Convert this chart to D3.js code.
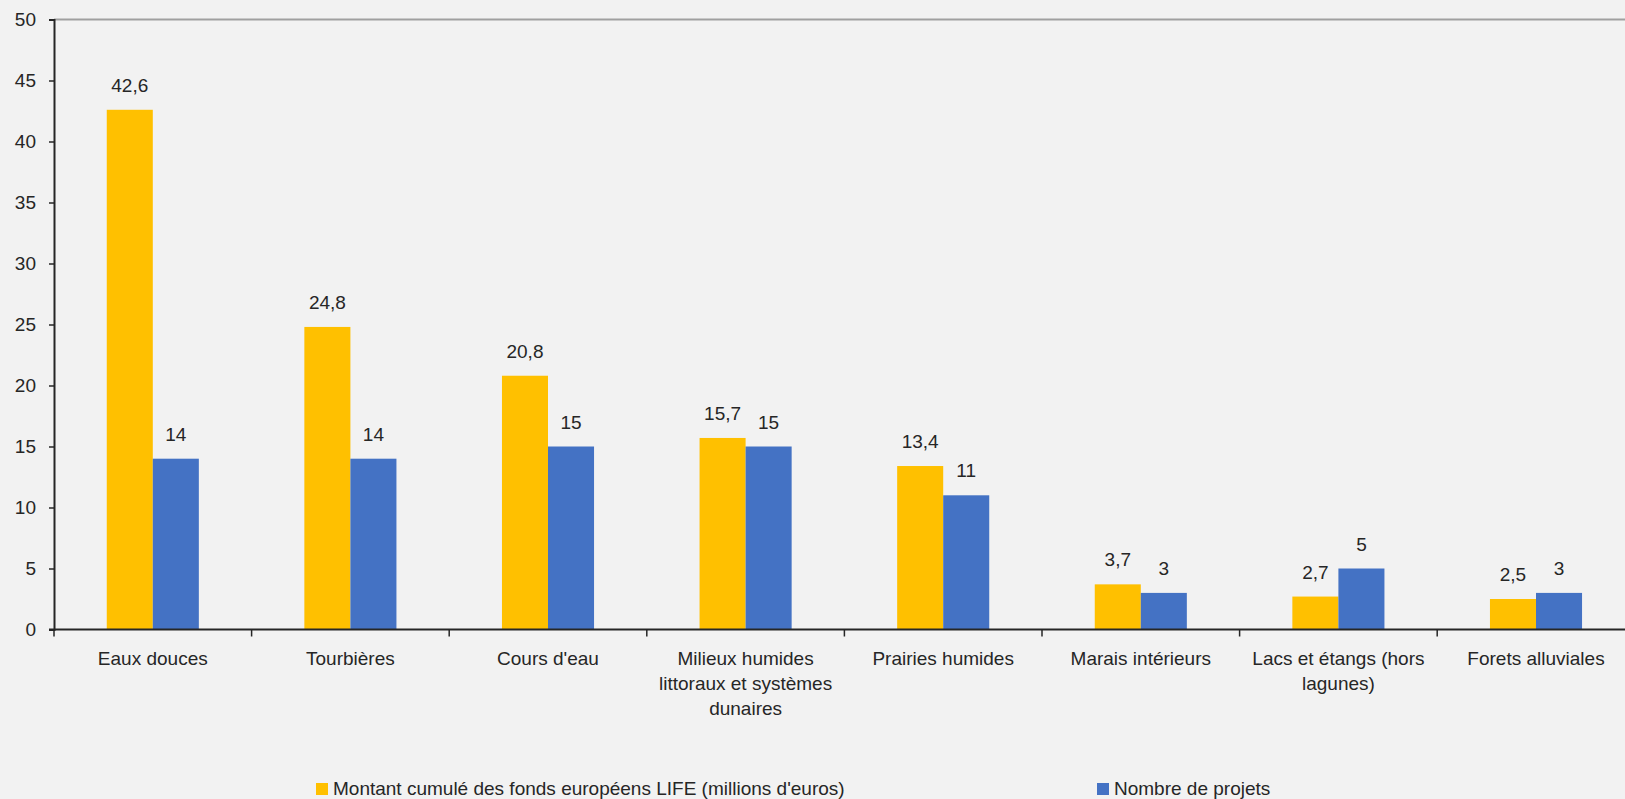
<!DOCTYPE html>
<html>
<head>
<meta charset="utf-8">
<script src="https://cdn.jsdelivr.net/npm/d3@7"></script>
<style>
  html, body { margin: 0; padding: 0; background: #f2f2f2; }
  svg { display: block; font-family: 'Liberation Sans', Arial, sans-serif; }
</style>
</head>
<body>
<svg id="chart"></svg>
<script>
const categories = ['Eaux douces', 'Tourbières', "Cours d'eau", 'Milieux humides littoraux et systèmes dunaires',
    'Prairies humides', 'Marais intérieurs', 'Lacs et étangs (hors lagunes)', 'Forets alluviales']
const categoryLines = [['Eaux douces'], ['Tourbières'], ["Cours d'eau"],
    ['Milieux humides', 'littoraux et systèmes', 'dunaires'],
    ['Prairies humides'], ['Marais intérieurs'], ['Lacs et étangs (hors', 'lagunes)'], ['Forets alluviales']]
const fonds = [42.6, 24.8, 20.8, 15.7, 13.4, 3.7, 2.7, 2.5]
const projets = [14, 14, 15, 15, 11, 3, 5, 3]
const seriesNames = ["Montant cumulé des fonds européens LIFE (millions d'euros)", 'Nombre de projets']
const yTicks = [0, 5, 10, 15, 20, 25, 30, 35, 40, 45, 50]

const YELLOW = '#ffc000'
const BLUE = '#4472c4'
const TEXT = '#262626'

const W = 1625, H = 799
const margin = { top: 19.5, left: 54, bottom: 169.5 }
const catWidth = 197.6

const svg = d3.select('#chart').attr('width', W).attr('height', H)

let x = d3.scaleBand()
    .domain(categories)
    .range([margin.left, margin.left + catWidth * categories.length])
    .paddingInner(0).paddingOuter(0)

let y = d3.scaleLinear()
    .domain([0, 50])
    .range([H - margin.bottom, margin.top])

const barW = catWidth * 0.233
const fmt = v => String(v).replace('.', ',')

// top line at 50
svg.append('line')
    .attr('x1', margin.left).attr('x2', W)
    .attr('y1', y(50)).attr('y2', y(50))
    .style('stroke', '#a0a0a0').style('stroke-width', 2)

// bars
const series = [
    { values: fonds, color: YELLOW, offset: -barW },
    { values: projets, color: BLUE, offset: 0 }
]
series.forEach(s => {
    svg.append('g').selectAll('rect')
        .data(categories)
        .enter().append('rect')
        .attr('x', (d, i) => x(d) + x.bandwidth() / 2 + s.offset)
        .attr('y', (d, i) => y(s.values[i]))
        .attr('width', barW)
        .attr('height', (d, i) => y(0) - y(s.values[i]))
        .style('fill', s.color)

    svg.append('g').selectAll('text')
        .data(categories)
        .enter().append('text')
        .attr('x', (d, i) => x(d) + x.bandwidth() / 2 + s.offset + barW / 2)
        .attr('y', (d, i) => y(s.values[i]) - 18)
        .attr('text-anchor', 'middle')
        .style('font-size', '19px')
        .style('fill', TEXT)
        .text((d, i) => fmt(s.values[i]))
})

// y axis
let yAxis = d3.axisLeft(y).tickValues(yTicks).tickSize(5).tickPadding(13)
let gy = svg.append('g')
    .attr('transform', `translate(${margin.left},0)`)
    .call(yAxis)
gy.select('.domain').style('stroke', '#262626').style('stroke-width', 2)
gy.selectAll('.tick line').style('stroke', '#262626').style('stroke-width', 1.5)
gy.selectAll('.tick text').style('font-size', '19px').style('fill', TEXT)
    .style('font-family', "'Liberation Sans', Arial, sans-serif")

// x axis
svg.append('line')
    .attr('x1', margin.left - 5).attr('x2', W)
    .attr('y1', y(0)).attr('y2', y(0))
    .style('stroke', '#262626').style('stroke-width', 2)

svg.append('g').selectAll('line')
    .data(categories.concat(['_end']))
    .enter().append('line')
    .attr('x1', (d, i) => margin.left + i * x.bandwidth())
    .attr('x2', (d, i) => margin.left + i * x.bandwidth())
    .attr('y1', y(0)).attr('y2', y(0) + 7)
    .style('stroke', '#262626').style('stroke-width', 1.5)

svg.append('g').selectAll('text')
    .data(categories)
    .enter().append('text')
    .attr('x', d => x(d) + x.bandwidth() / 2)
    .attr('y', y(0) + 35)
    .attr('text-anchor', 'middle')
    .style('font-size', '19px')
    .style('fill', TEXT)
    .each(function (d, i) {
        d3.select(this).selectAll('tspan')
            .data(categoryLines[i])
            .enter().append('tspan')
            .attr('x', x(d) + x.bandwidth() / 2)
            .attr('dy', (t, j) => j === 0 ? 0 : 25)
            .text(t => t)
    })

// legend
const legendX = [316, 1097]
const legend = svg.append('g')
seriesNames.forEach((name, i) => {
    legend.append('rect')
        .attr('x', legendX[i]).attr('y', 783)
        .attr('width', 12).attr('height', 12)
        .style('fill', series[i].color)
    legend.append('text')
        .attr('x', legendX[i] + 17).attr('y', 795)
        .style('font-size', '19px')
        .style('fill', TEXT)
        .text(name)
})
</script>
</body>
</html>
